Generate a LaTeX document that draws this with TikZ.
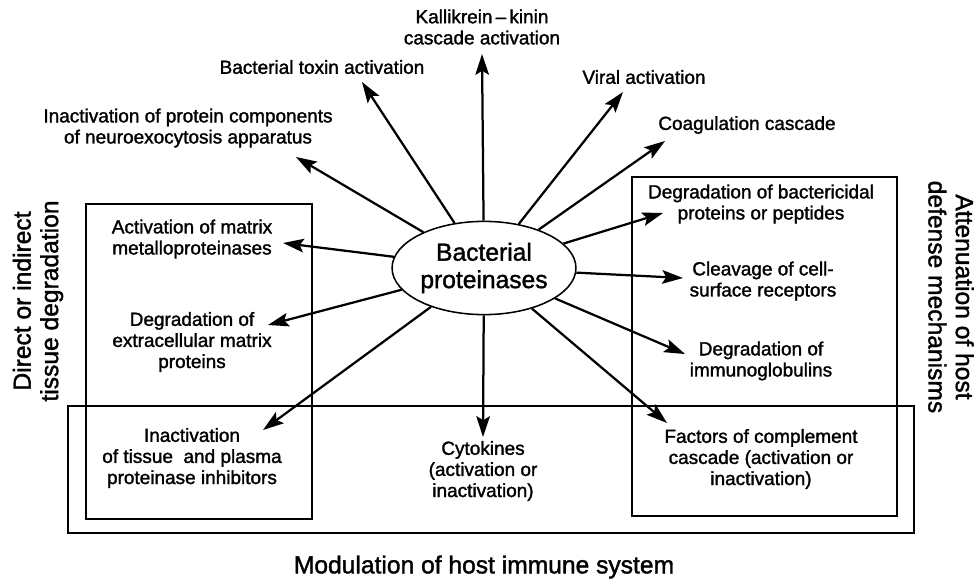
\documentclass[tikz,border=0pt]{standalone}
\usepackage{fontspec}
\setmainfont{Liberation Sans}[RawFeature={embolden=1.5}]
\usepackage{tikz}
\usetikzlibrary{arrows.meta,shapes.geometric}

\tikzset{
  lbl/.style={align=center, inner sep=1pt, font=\fontsize{13.5}{15}\selectfont},
  big/.style={align=center, inner sep=1pt, font=\fontsize{17.5}{19.5}\selectfont},
  arr/.style={line width=1.6pt, -{Stealth[length=5.2mm,width=3.4mm,inset=1mm]}},
  box/.style={line width=1.4pt}
}

\begin{document}
\begin{tikzpicture}[x=0.025cm, y=-0.025cm]

\useasboundingbox (0,0) rectangle (978,583);

% riquadri
\draw[box] (86,204) rectangle (312,519);
\draw[box] (632,177) rectangle (897,516);
\draw[box] (68,406) rectangle (914,533);

\node[ellipse, draw, line width=1.1pt, minimum width=4.3cm, minimum height=2.33cm, inner sep=0pt, big, fill=white] (bp) at (484,268) {Bacterial\\proteinases};

\node[lbl] (kall) at (482,27) {Kallikrein\,--\,kinin\\cascade activation};
\node[lbl] (toxin) at (322,67) {Bacterial toxin activation};
\node[lbl] (neuro) at (188,128) {Inactivation of protein components\\of neuroexocytosis apparatus};
\node[lbl] (viral) at (644,77) {Viral activation};
\node[lbl] (coag) at (747,125) {Coagulation cascade};
\node[lbl] (mmp) at (192,239) {Activation of matrix\\metalloproteinases};
\node[lbl] (ecm) at (192,342) {Degradation of\\extracellular matrix\\proteins};
\node[lbl] (inhib) at (192,458) {Inactivation\\of tissue\ \ and plasma\\proteinase inhibitors};
\node[lbl] (cyto) at (483,471) {Cytokines\\(activation or\\inactivation)};
\node[lbl] (compl) at (761,459) {Factors of complement\\cascade (activation or\\inactivation)};
\node[lbl] (ig) at (761,361) {Degradation of\\immunoglobulins};
\node[lbl] (recep) at (763,281) {Cleavage of cell-\\surface receptors};
\node[lbl] (bact) at (761,204) {Degradation of bactericidal\\proteins or peptides};

\node[big, rotate=90] (tissue) at (38,301) {Direct or indirect\\tissue degradation};
\node[big, rotate=-90] (host) at (951,297) {Attenuation of host\\defense mechanisms};
\node[big] (immune) at (484,567) {Modulation of host immune system};

% punte delle frecce
\coordinate (tKall) at (482,54);
\coordinate (tToxin) at (362,82);
\coordinate (tNeuro) at (296,157);
\coordinate (tMmp) at (283,243);
\coordinate (tEcm) at (268,325);
\coordinate (tInhib) at (263,430);
\coordinate (tCyto) at (483,437);
\coordinate (tCompl) at (667,423);
\coordinate (tIg) at (685,354);
\coordinate (tRecep) at (683,278);
\coordinate (tBact) at (663,213);
\coordinate (tCoag) at (665,141);
\coordinate (tViral) at (623,92);

% Archi
\draw[arr] (bp) -- (tKall);
\draw[arr] (bp) -- (tToxin);
\draw[arr] (bp) -- (tNeuro);
\draw[arr] (bp) -- (tMmp);
\draw[arr] (bp) -- (tEcm);
\draw[arr] (bp) -- (tInhib);
\draw[arr] (bp) -- (tCyto);
\draw[arr] (bp) -- (tCompl);
\draw[arr] (bp) -- (tIg);
\draw[arr] (bp) -- (tRecep);
\draw[arr] (bp) -- (tBact);
\draw[arr] (bp) -- (tCoag);
\draw[arr] (bp) -- (tViral);

\end{tikzpicture}
\end{document}
